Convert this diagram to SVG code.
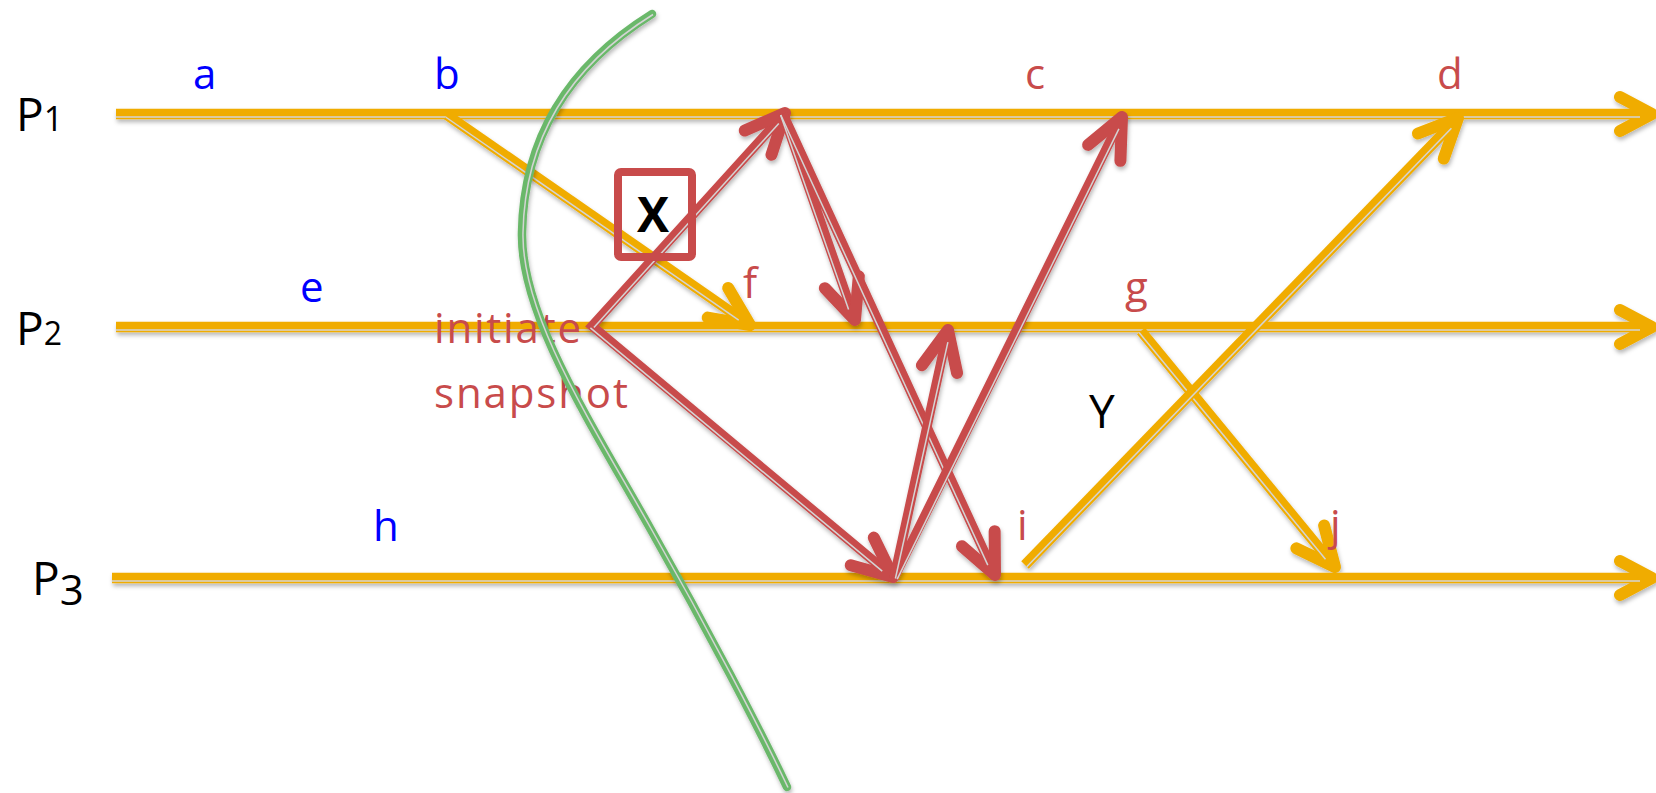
<svg xmlns="http://www.w3.org/2000/svg" width="1656" height="793" viewBox="0 0 1656 793">
<style>
.o{fill:none;stroke:#f0ac00;stroke-width:10.5}
.r{fill:none;stroke:#c84b4b;stroke-width:9.5;stroke-linejoin:miter}
.g{fill:none;stroke:#6bb86b;stroke-width:8.5;stroke-linecap:round}
.in{fill:none;stroke:#d4d4d4;stroke-width:1.5}
.t{font-family:"Open Sans","Liberation Sans",sans-serif;font-size:42px}
.blue{fill:#0000ff}
.red{fill:#c84b4b}
.blk{fill:#000}
</style>
<defs>
<filter id="sh" filterUnits="userSpaceOnUse" x="0" y="0" width="1656" height="793">
<feDropShadow dx="1" dy="3" stdDeviation="2" flood-color="#000" flood-opacity="0.28"/>
</filter>
<marker id="mp" markerUnits="userSpaceOnUse" viewBox="-50 -30 60 60" markerWidth="60" markerHeight="60" refX="0" refY="0" orient="auto" overflow="visible">
<path d="M-32,-17 L0,0 L-32,17" fill="none" stroke="#f0ac00" stroke-width="12" stroke-linecap="round" stroke-linejoin="round"/>
</marker>
<marker id="mo" markerUnits="userSpaceOnUse" viewBox="-50 -30 60 60" markerWidth="60" markerHeight="60" refX="0" refY="0" orient="auto" overflow="visible">
<path d="M-39,-18 L0,0 L-39,18" fill="none" stroke="#f0ac00" stroke-width="12" stroke-linecap="round" stroke-linejoin="round"/>
</marker>
<marker id="mr" markerUnits="userSpaceOnUse" viewBox="-50 -30 60 60" markerWidth="60" markerHeight="60" refX="0" refY="0" orient="auto-start-reverse" overflow="visible">
<path d="M-40,-18 L0,0 L-40,18" fill="none" stroke="#c84b4b" stroke-width="12" stroke-linecap="round" stroke-linejoin="round"/>
</marker>
</defs>
<rect width="1656" height="793" fill="#fff"/>

<g id="connectors">
<g id="orange" filter="url(#sh)">
<path class="o" d="M116,114 H1652" marker-end="url(#mp)"/>
<path class="in" d="M116,117 H1640"/>
<path class="o" d="M116,327 H1652" marker-end="url(#mp)"/>
<path class="in" d="M116,330 H1640"/>
<path class="o" d="M112,578 H1652" marker-end="url(#mp)"/>
<path class="in" d="M112,581 H1640"/>
<path class="o" d="M447,115 L750,325" marker-end="url(#mo)"/>
<path class="in" d="M445.6,117 L738.7,320.2"/>
<path class="o" d="M1141,331 L1335,567" marker-end="url(#mo)"/>
<path class="in" d="M1139.1,332.6 L1325.5,559.3"/>
<path class="o" d="M1025,565 L1458,118" marker-end="url(#mo)"/>
<path class="in" d="M1026.8,566.7 L1451.4,128.3"/>
</g>
<g id="red" filter="url(#sh)">
<path class="r" d="M785,113 L592,326 L893,577" marker-start="url(#mr)" marker-end="url(#mr)"/>
<path class="in" d="M778.8,123.5 L593.9,327.6"/>
<path class="in" d="M590.4,327.9 L882.2,571.2"/>
<path class="r" d="M855,320 L783,114 L995,575" marker-start="url(#mr)" marker-end="url(#mr)"/>
<path class="in" d="M780.6,114.9 L848.6,309.6"/>
<path class="in" d="M780.8,115 L987.8,565.1"/>
<path class="r" d="M948,330 L894,578 L1122,117" marker-start="url(#mr)" marker-end="url(#mr)"/>
<path class="in" d="M895.4,578.5 L947.9,342.2"/>
<path class="in" d="M897.2,579.1 L1118.9,128.9"/>
</g>
</g>

<g id="xbox">
<rect x="618" y="172" width="74" height="85" rx="3" fill="none" stroke="#c84b4b" stroke-width="8"/>
<text x="653" y="232" text-anchor="middle" font-family="Open Sans, Liberation Sans, sans-serif" font-size="48" font-weight="bold" fill="#000">X</text>
</g>

<g id="labels" class="t">
<text id="P1" class="blk" x="16" y="131" font-size="46">P<tspan font-size="34">1</tspan></text>
<text id="P2" class="blk" x="16" y="345" font-size="46">P<tspan font-size="32">2</tspan></text>
<text id="P3" class="blk" x="32" y="595" font-size="46">P<tspan font-size="42" dy="10">3</tspan></text>
<text id="a" class="blue" x="193" y="89">a</text>
<text id="b" class="blue" x="434" y="89">b</text>
<text id="c" class="red" x="1025" y="89">c</text>
<text id="d" class="red" x="1437" y="89">d</text>
<text id="e" class="blue" x="300" y="302">e</text>
<text id="f" class="red" x="743" y="298">f</text>
<text id="g" class="red" x="1125" y="302">g</text>
<text id="h" class="blue" x="373" y="541">h</text>
<text id="i" class="red" x="1017" y="540">i</text>
<text id="j" class="red" x="1330" y="540">j</text>
<text id="Y" class="blk" x="1089" y="428" font-size="46">Y</text>
<text id="initiate" class="red" x="434" y="343" font-size="42" textLength="147" lengthAdjust="spacing">initiate</text>
<text id="snapshot" class="red" x="434" y="408" font-size="42" textLength="194" lengthAdjust="spacing">snapshot</text>
</g>

<g id="cut" filter="url(#sh)">
<path class="g" d="M652,14 C578,60 524,128 522,232 C520,315 592,425 650,528 C708,630 760,730 787,787"/>
<path class="in" transform="translate(1,0.5)" d="M652,14 C578,60 524,128 522,232 C520,315 592,425 650,528 C708,630 760,730 787,787"/>
</g>
</svg>
